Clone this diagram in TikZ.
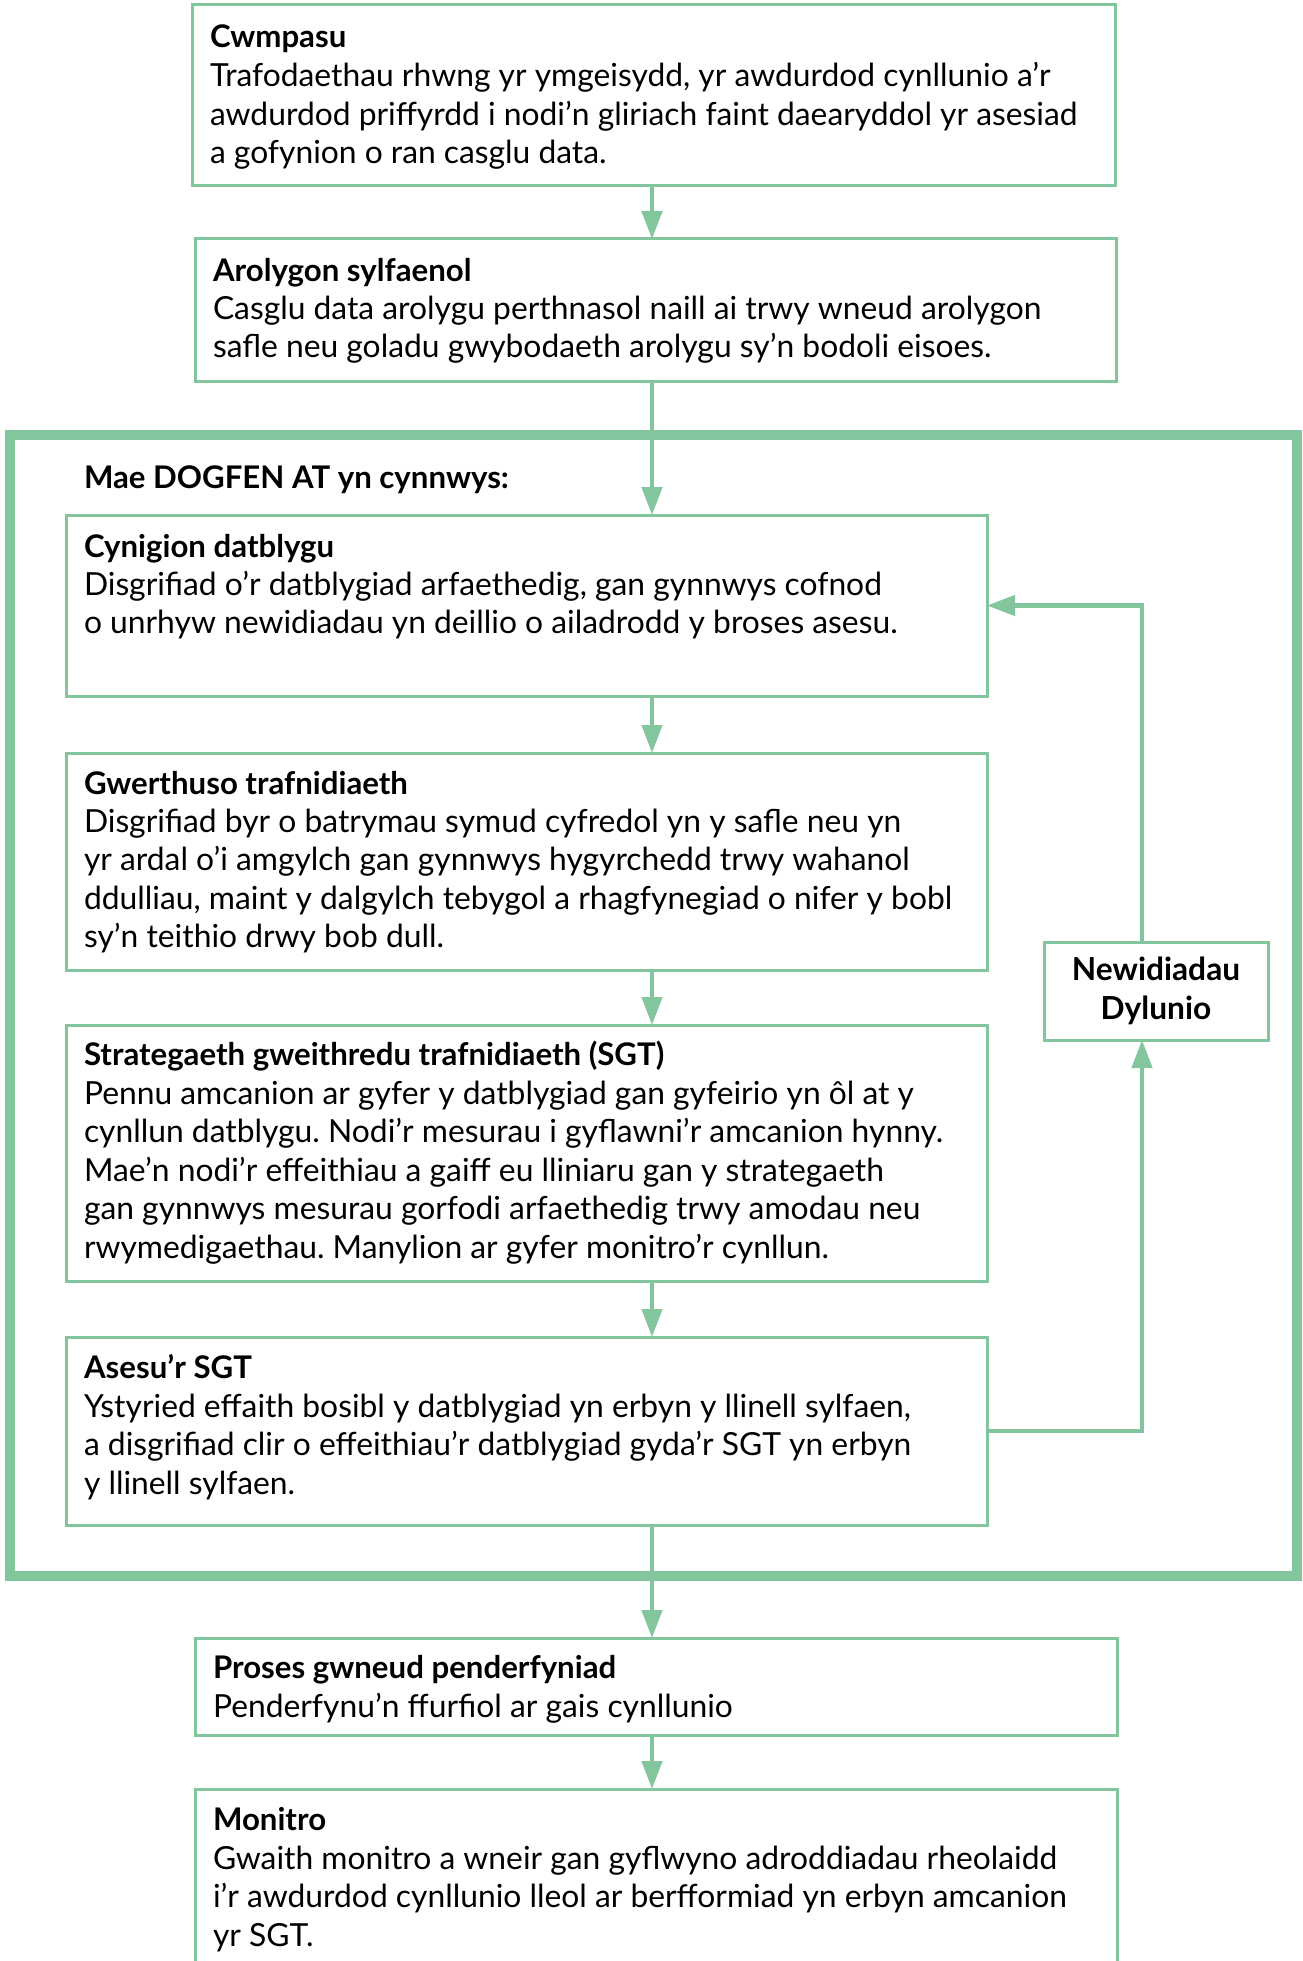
\documentclass[tikz,border=0pt]{standalone}
\usepackage{fontspec}
\setmainfont{Lato}
\usetikzlibrary{arrows.meta}
\definecolor{grn}{HTML}{83C59D}
\frenchspacing
\tikzset{
  box/.style={draw=grn, line width=3pt, inner sep=0pt, outer sep=0pt, anchor=north west},
  conn/.style={draw=grn, line width=4.5pt, -{Triangle[length=28pt,width=20pt]}},
  txt/.style={inner sep=0pt, outer sep=0pt, anchor=base west, font=\fontsize{31.8pt}{38pt}\selectfont},
  ttl/.style={txt, font=\fontsize{31.2pt}{38pt}\selectfont\bfseries}
}
\begin{document}
\begin{tikzpicture}[x=1pt,y=-1pt]
\useasboundingbox (0,0) rectangle (1302,1961);
\coordinate (sp) at (652,0);
\coordinate (fb) at (1142,0);
% outer frame
\node[box, line width=10pt, minimum width=1287pt, minimum height=1141pt] (frame) at (10,435) {};
% boxes
\node[box, minimum width=923pt, minimum height=181pt] (b1) at (192,5) {};
\node[box, minimum width=921pt, minimum height=142pt] (b2) at (195,239) {};
\node[box, minimum width=921pt, minimum height=181pt] (b3) at (66,515) {};
\node[box, minimum width=921pt, minimum height=217pt] (b4) at (66,753) {};
\node[box, minimum width=921pt, minimum height=256pt] (b5) at (66,1025) {};
\node[box, minimum width=921pt, minimum height=188pt] (b6) at (66,1337) {};
\node[box, minimum width=922pt, minimum height=97pt] (b7) at (195,1638) {};
\node[box, minimum width=922pt, minimum height=220pt] (b8) at (195,1789) {};
\node[box, minimum width=224pt, minimum height=98pt, align=center,
      font=\fontsize{31.7pt}{38.5pt}\selectfont\bfseries] (nd) at (1044,942) {Newidiadau\\Dylunio};
% texts
\node[ttl] (t1) at (210,48) {Cwmpasu};
\node[txt] (t1a) at (210,87) {Trafodaethau rhwng yr ymgeisydd, yr awdurdod cynllunio a’r};
\node[txt] (t1b) at (210,125.5) {awdurdod priffyrdd i nodi’n gliriach faint daearyddol yr asesiad};
\node[txt] (t1c) at (210,164) {a gofynion o ran casglu data.};
\node[ttl] (t2) at (213,281) {Arolygon sylfaenol};
\node[txt] (t2a) at (213,319) {Casglu data arolygu perthnasol naill ai trwy wneud arolygon};
\node[txt] (t2b) at (213,357.5) {safle neu goladu gwybodaeth arolygu sy’n bodoli eisoes.};
\node[ttl] (tm) at (84,488) {Mae DOGFEN AT yn cynnwys:};
\node[ttl] (t3) at (84,557) {Cynigion datblygu};
\node[txt] (t3a) at (84,595) {Disgrifiad o’r datblygiad arfaethedig, gan gynnwys cofnod};
\node[txt] (t3b) at (84,633.5) {o unrhyw newidiadau yn deillio o ailadrodd y broses asesu.};
\node[ttl] (t4) at (84,794) {Gwerthuso trafnidiaeth};
\node[txt] (t4a) at (84,832) {Disgrifiad byr o batrymau symud cyfredol yn y safle neu yn};
\node[txt] (t4b) at (84,870.5) {yr ardal o’i amgylch gan gynnwys hygyrchedd trwy wahanol};
\node[txt] (t4c) at (84,909) {ddulliau, maint y dalgylch tebygol a rhagfynegiad o nifer y bobl};
\node[txt] (t4d) at (84,947.5) {sy’n teithio drwy bob dull.};
\node[ttl] (t5) at (84,1065) {Strategaeth gweithredu trafnidiaeth (SGT)};
\node[txt] (t5a) at (84,1104) {Pennu amcanion ar gyfer y datblygiad gan gyfeirio yn ôl at y};
\node[txt] (t5b) at (84,1142.5) {cynllun datblygu. Nodi’r mesurau i gyflawni’r amcanion hynny.};
\node[txt] (t5c) at (84,1181) {Mae’n nodi’r effeithiau a gaiff eu lliniaru gan y strategaeth};
\node[txt] (t5d) at (84,1219.5) {gan gynnwys mesurau gorfodi arfaethedig trwy amodau neu};
\node[txt] (t5e) at (84,1258) {rwymedigaethau. Manylion ar gyfer monitro’r cynllun.};
\node[ttl] (t6) at (84,1378) {Asesu’r SGT};
\node[txt] (t6a) at (84,1417) {Ystyried effaith bosibl y datblygiad yn erbyn y llinell sylfaen,};
\node[txt] (t6b) at (84,1455.5) {a disgrifiad clir o effeithiau’r datblygiad gyda’r SGT yn erbyn};
\node[txt] (t6c) at (84,1494) {y llinell sylfaen.};
\node[ttl] (t7) at (213,1678) {Proses gwneud penderfyniad};
\node[txt] (t7a) at (213,1717) {Penderfynu’n ffurfiol ar gais cynllunio};
\node[ttl] (t8) at (213,1830) {Monitro};
\node[txt] (t8a) at (213,1869) {Gwaith monitro a wneir gan gyflwyno adroddiadau rheolaidd};
\node[txt] (t8b) at (213,1907.5) {i’r awdurdod cynllunio lleol ar berfformiad yn erbyn amcanion};
\node[txt] (t8c) at (213,1946) {yr SGT.};
% connectors
\draw[conn] (b1.south -| sp) -- (b2.north -| sp);
\draw[conn] (b2.south -| sp) -- (b3.north -| sp);
\draw[conn] (b3.south -| sp) -- (b4.north -| sp);
\draw[conn] (b4.south -| sp) -- (b5.north -| sp);
\draw[conn] (b5.south -| sp) -- (b6.north -| sp);
\draw[conn] (b6.south -| sp) -- (b7.north -| sp);
\draw[conn] (b7.south -| sp) -- (b8.north -| sp);
\draw[conn] (b6.east) -- (b6.east -| fb) -- (nd.south -| fb);
\draw[conn] (nd.north -| fb) |- (b3.east);
\end{tikzpicture}
\end{document}
